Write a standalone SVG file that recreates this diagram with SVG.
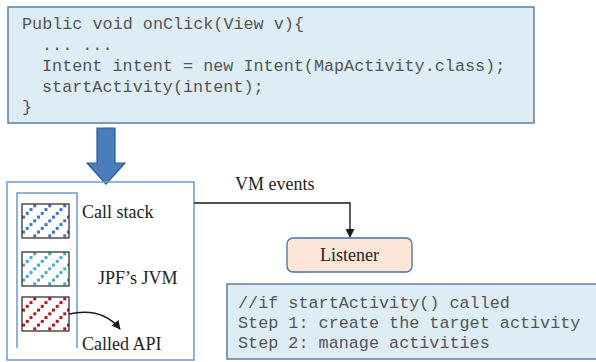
<svg xmlns="http://www.w3.org/2000/svg" width="596" height="362" viewBox="0 0 596 362">
<style>
.code{font-family:"Liberation Mono","Courier New",monospace;font-size:16.8px;fill:#555}
.serif{font-family:"Liberation Serif","Times New Roman",serif;font-size:18px;fill:#222}
.codebox{fill:#deedf5;stroke:#5d7ea6;stroke-width:1.5}
.frame{fill:none;stroke:#6b9bd0;stroke-width:1.5}
.cell{stroke:#222;stroke-width:1.2}
.conn{fill:none;stroke:#1a1a1a;stroke-width:1.4}
</style>
<defs>
<g id="stair"><rect x="0" y="11.6" width="3" height="3"/><rect x="3.75" y="7.85" width="3" height="3"/><rect x="7.5" y="4.1" width="3" height="3"/><rect x="11.25" y="0.35" width="3" height="3"/></g>
<pattern id="pBlue" patternUnits="userSpaceOnUse" x="22" y="204" width="15" height="15"><rect width="15" height="15" fill="#fff"/><use href="#stair" fill="#3c76bf"/></pattern>
<pattern id="pTeal" patternUnits="userSpaceOnUse" x="22" y="252" width="15" height="15"><rect width="15" height="15" fill="#fff"/><use href="#stair" fill="#4aa8c8"/></pattern>
<pattern id="pRed" patternUnits="userSpaceOnUse" x="22" y="297" width="15" height="15"><rect width="15" height="15" fill="#fff"/><use href="#stair" fill="#b3161f"/></pattern>
<marker id="ah" viewBox="0 0 10 10" refX="9" refY="5" markerWidth="9" markerHeight="9" markerUnits="userSpaceOnUse" orient="auto"><path d="M0,0 L10,5 L0,10 z" fill="#1a1a1a"/></marker>
</defs>

<g id="code-top">
<rect class="codebox" x="8" y="7" width="526" height="116"/>
<text class="code" x="22" y="29">Public void onClick(View v){</text>
<text class="code" x="42" y="50">... ...</text>
<text class="code" x="42" y="71">Intent intent = new Intent(MapActivity.class);</text>
<text class="code" x="42" y="92">startActivity(intent);</text>
<text class="code" x="22" y="112">}</text>
</g>

<g id="big-arrow">
<path d="M97,128 L115,128 L115,163 L125,163 L106,184 L87,163 L97,163 Z" fill="#4a7ebb" stroke="#2f5c90" stroke-width="1.2"/>
</g>

<g id="jvm">
<rect class="frame" x="7" y="182" width="187" height="178"/>
<path class="frame" d="M17,348 L17,193 L77,193 L77,348"/>
<rect class="cell" x="22" y="204" width="47" height="34" fill="url(#pBlue)"/>
<rect class="cell" x="22" y="252" width="47" height="34" fill="url(#pTeal)"/>
<rect class="cell" x="22" y="297" width="47" height="34" fill="url(#pRed)"/>
<text class="serif" x="82" y="218">Call stack</text>
<text class="serif" x="98" y="284">JPF’s JVM</text>
<text class="serif" x="82" y="350">Called API</text>
<path class="conn" d="M69,314 C92,309 108,314 120,329" marker-end="url(#ah)"/>
</g>

<g id="connectors">
<path class="conn" d="M194,203 L350,203 L350,237" marker-end="url(#ah)"/>
<text class="serif" x="235" y="190">VM events</text>
</g>

<g id="listener">
<rect x="287" y="238" width="125" height="34" rx="6" fill="#fbe6d7" stroke="#4a6fa5" stroke-width="1.3"/>
<text class="serif" x="349.5" y="261" text-anchor="middle">Listener</text>
</g>

<g id="code-bottom">
<rect class="codebox" x="227" y="284" width="380" height="75"/>
<text class="code" x="238" y="308">//if startActivity() called</text>
<text class="code" x="238" y="328">Step 1: create the target activity</text>
<text class="code" x="238" y="348">Step 2: manage activities</text>
</g>
</svg>
